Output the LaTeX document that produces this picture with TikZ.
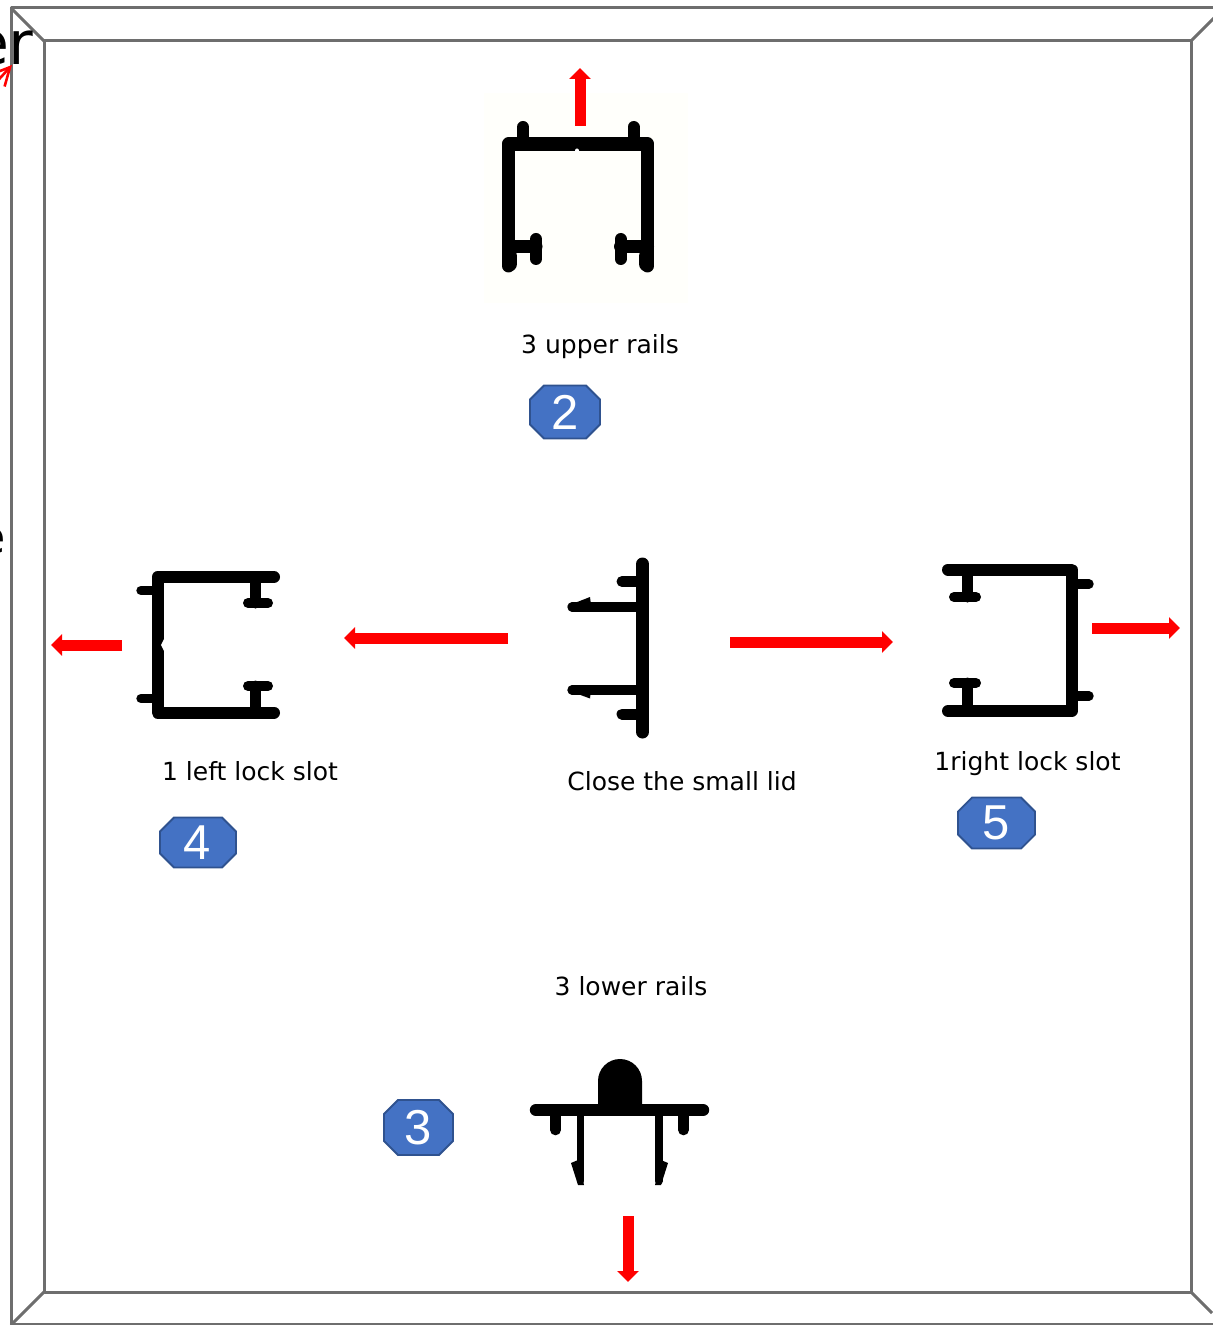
\documentclass[tikz,border=0pt]{standalone}
\usepackage{fontspec}
\setmainfont{DejaVu Sans}
\usetikzlibrary{arrows.meta}
\definecolor{framegray}{HTML}{6E6E6E}
\definecolor{badgefill}{HTML}{4472C4}
\definecolor{badgeline}{HTML}{2F528F}
\definecolor{imagetint}{HTML}{FFFFFB}
\newfontfamily\badgefont{Liberation Sans}
\tikzset{
  framing/.style={draw=framegray,line width=1.5pt,line join=round},
  redarrow/.style={draw=red,line width=5.5pt,-{Triangle[width=10.5pt,length=5.5pt]}},
  rail/.style={draw=black,line width=#1,line cap=round,line join=round},
  badgeplate/.style={draw=badgeline,line width=.9pt,fill=badgefill},
  badgetext/.style={text=white,inner sep=0pt,font=\fontsize{24.5}{28}\selectfont\badgefont},
  caption/.style={font=\fontsize{12.5}{15}\selectfont,inner sep=0pt}
}
% left, top, right, bottom
\newcommand{\plate}[4]{\draw[badgeplate] (#1+14,#2) -- (#3-14,#2) -- (#3,#2+14) -- (#3,#4-14) -- (#3-14,#4) -- (#1+14,#4) -- (#1,#4-14) -- (#1,#2+14) -- cycle;}
\begin{document}
\begin{tikzpicture}[x=0.5pt,y=-0.5pt]
\useasboundingbox (0,0) rectangle (1212,1325);
% frame
\draw[framing] (11,8) rectangle (1230,1324);
\draw[framing] (44,41) rectangle (1191,1292);
\draw[framing] (11,8) -- (44,41);
\draw[framing] (1224,8) -- (1191,41);
\draw[framing] (11,1325) -- (44,1292);
\draw[framing] (1212,1313) -- (1191,1292);
% cut off leftovers
\node[anchor=base east,inner sep=0pt,font=\fontsize{30}{30}\selectfont] (cutword) at (34,65) {er};
\node[anchor=base east,inner sep=0pt,font=\fontsize{23}{23}\selectfont] (cutletter) at (6,553) {e};
\coordinate (strayA) at (-8,87);
\coordinate (strayB) at (12,65);
\draw[red,line width=1.3pt,-{Straight Barb[length=9pt,width=9pt]}] (strayA) -- (strayB);
% upper rail
\fill[imagetint] (484,93) rectangle (688,303);
\draw[rail=6.5pt] (508.5,266) -- (508.5,144) -- (647.5,144) -- (647.5,266);
\draw[rail=7.5pt] (509.5,256) -- (509.5,264);
\draw[rail=7.5pt] (646.5,256) -- (646.5,264);
\draw[rail=7pt] (515,144) -- (640,144);
\draw[rail=6pt] (523,127) -- (523,144);
\draw[rail=6pt] (633.5,127) -- (633.5,144);
\draw[rail=6.5pt] (508.5,246.5) -- (536,246.5);
\draw[rail=6pt] (536,239) -- (536,259);
\draw[rail=6.5pt] (647.5,246.5) -- (620.5,246.5);
\draw[rail=6pt] (620.5,239) -- (620.5,259);
\fill[white] (577,150.5) circle (2);
% left lock slot
\draw[rail=6pt] (274,577) -- (157.5,577) -- (157.5,712.5) -- (274,712.5);
\draw[rail=4.7pt] (141,590.5) -- (157.5,590.5);
\draw[rail=4.7pt] (141,698.5) -- (157.5,698.5);
\draw[rail=5.5pt] (255.5,577) -- (255.5,603);
\draw[rail=5pt] (248,603) -- (268,603);
\draw[rail=5.5pt] (255.5,712.5) -- (255.5,686);
\draw[rail=5pt] (248,686) -- (268,686);
\fill[white] (161,645) -- (164,639) -- (164,651) -- cycle;
% small lid
\draw[rail=6.5pt] (642.5,564) -- (642.5,732);
\draw[rail=5.5pt] (622,581.5) -- (642.5,581.5);
\draw[rail=5.5pt] (622,714) -- (642.5,714);
\draw[rail=4.7pt] (572,607) -- (642.5,607);
\draw[rail=4.7pt] (572,690) -- (642.5,690);
\fill[line join=round] (567,606) -- (590,597) -- (591,605) -- cycle;
\fill[line join=round] (567,690) -- (590,698.5) -- (591,690) -- cycle;
% right lock slot
\draw[rail=6pt] (948,569.5) -- (1071.5,569.5) -- (1071.5,711) -- (948,711);
\draw[rail=4.7pt] (1071.5,584) -- (1089,584);
\draw[rail=4.7pt] (1071.5,696) -- (1089,696);
\draw[rail=5.5pt] (967.5,569.5) -- (967.5,597);
\draw[rail=5pt] (954,597) -- (976,597);
\draw[rail=5.5pt] (967.5,711) -- (967.5,683);
\draw[rail=5pt] (954,683) -- (976,683);
\fill[white] (1066,640) -- (1063,634) -- (1063,646) -- cycle;
% lower rail
\draw[rail=6.2pt] (536,1110) -- (703,1110);
\fill (598,1110) -- (598,1081) arc (180:360:22) -- (642,1110) -- cycle;
\draw[rail=5.3pt] (555.5,1110) -- (555.5,1130);
\draw[rail=5.3pt] (683.5,1110) -- (683.5,1130);
\draw[rail=3.7pt] (580.5,1110) -- (580.5,1181);
\draw[rail=3.7pt] (659,1110) -- (659,1181);
\fill (571,1163) -- (578,1160) -- (584,1185) -- (578,1185) -- cycle;
\fill (668,1163) -- (661,1160) -- (655,1185) -- (661,1185) -- cycle;
% captions
\node[caption] (upper) at (600,347) {3 upper rails};
\node[caption] (left) at (250,771) {1 left lock slot};
\node[caption] (lid) at (682,781) {Close the small lid};
\node[caption] (right) at (1027.5,763.5) {1right lock slot};
\node[caption] (lower) at (631,986) {3 lower rails};
% badges
\plate{530}{385.5}{600}{438.5}
\node[badgetext] (badgeB) at (565,412) {2};
\plate{160}{817.5}{236}{867.5}
\node[badgetext] (badgeD) at (197,842.5) {4};
\plate{958}{797.5}{1035}{848.5}
\node[badgetext] (badgeE) at (996,823) {5};
\plate{384}{1100}{453}{1155}
\node[badgetext] (badgeC) at (418,1127.5) {3};
% arrows
\coordinate (upA) at (580,126);
\coordinate (upB) at (580,68);
\coordinate (farleftA) at (122,645);
\coordinate (farleftB) at (51,645);
\coordinate (midleftA) at (508,638);
\coordinate (midleftB) at (344,638);
\coordinate (midrightA) at (730,642);
\coordinate (midrightB) at (893,642);
\coordinate (farrightA) at (1092,628);
\coordinate (farrightB) at (1180,628);
\coordinate (downA) at (628,1216);
\coordinate (downB) at (628,1282);
\draw[redarrow] (upA) -- (upB);
\draw[redarrow] (farleftA) -- (farleftB);
\draw[redarrow] (midleftA) -- (midleftB);
\draw[redarrow] (midrightA) -- (midrightB);
\draw[redarrow] (farrightA) -- (farrightB);
\draw[redarrow] (downA) -- (downB);
\end{tikzpicture}
\end{document}
